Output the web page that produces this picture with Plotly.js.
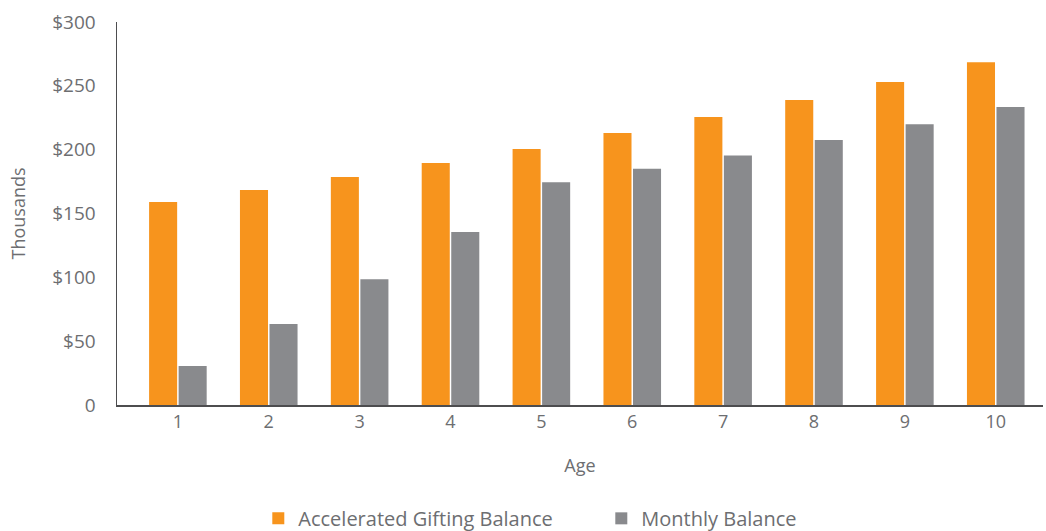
<!DOCTYPE html>
<html><head><meta charset="utf-8">
<script src="https://cdn.plot.ly/plotly-3.0.1.min.js"></script>
<style>html,body{margin:0;padding:0;background:#fff}#chart{width:1046px;height:531px}</style>
</head><body><div id="chart"></div>
<script>
var ages = ['1','2','3','4','5','6','7','8','9','10'];
var accelerated = [159, 168.5, 178.5, 189.5, 200.5, 213, 225.5, 239, 253, 268.5];
var monthly = [30.5, 63.5, 98.5, 135.5, 174.5, 185, 195.5, 207.5, 220, 233.5];
var yTickVals = [0, 50, 100, 150, 200, 250, 300];
var yTickText = ['0', '$50', '$100', '$150', '$200', '$250', '$300'];

var fam = '"Open Sans", Lato, sans-serif';
var txt = '#6d6e71';
var data = [
  {type: 'bar', x: ages, y: accelerated, name: 'Accelerated Gifting Balance', marker: {color: '#F7941D'}, hoverinfo: 'none'},
  {type: 'bar', x: ages, y: monthly, name: 'Monthly Balance', marker: {color: '#898A8D'}, hoverinfo: 'none'}
];
var layout = {
  width: 1046, height: 531,
  margin: {l: 117, r: 3, t: 22, b: 126, autoexpand: false},
  paper_bgcolor: '#fff', plot_bgcolor: '#fff',
  font: {family: fam, color: txt},
  barmode: 'group', bargap: 0.35, bargroupgap: 0.05,
  showlegend: true,
  legend: {orientation: 'h', x: 0.523, xanchor: 'center', y: -0.245, yanchor: 'top',
           font: {family: fam, color: txt, size: 20}, itemwidth: 30, entrywidth: 298, traceorder: 'normal'},
  xaxis: {
    type: 'category', range: [-0.67, 9.52], showgrid: false, zeroline: false,
    showline: true, linecolor: '#4d4d4f', linewidth: 1.5, ticks: '',
    tickfont: {size: 18, color: txt, family: fam},
    title: {text: 'Age', font: {size: 18, color: txt, family: fam}, standoff: 27}
  },
  yaxis: {
    range: [0, 300], tickvals: yTickVals, ticktext: yTickText, showgrid: false, zeroline: false,
    showline: true, linecolor: '#4d4d4f', linewidth: 1.5, ticks: '', ticklabelstandoff: 16,
    tickfont: {size: 19, color: txt, family: fam},
    title: {text: 'Thousands', font: {size: 18, color: txt, family: fam}, standoff: 22}
  }
};
Plotly.newPlot('chart', data, layout, {displayModeBar: false, staticPlot: true});
</script></body></html>
